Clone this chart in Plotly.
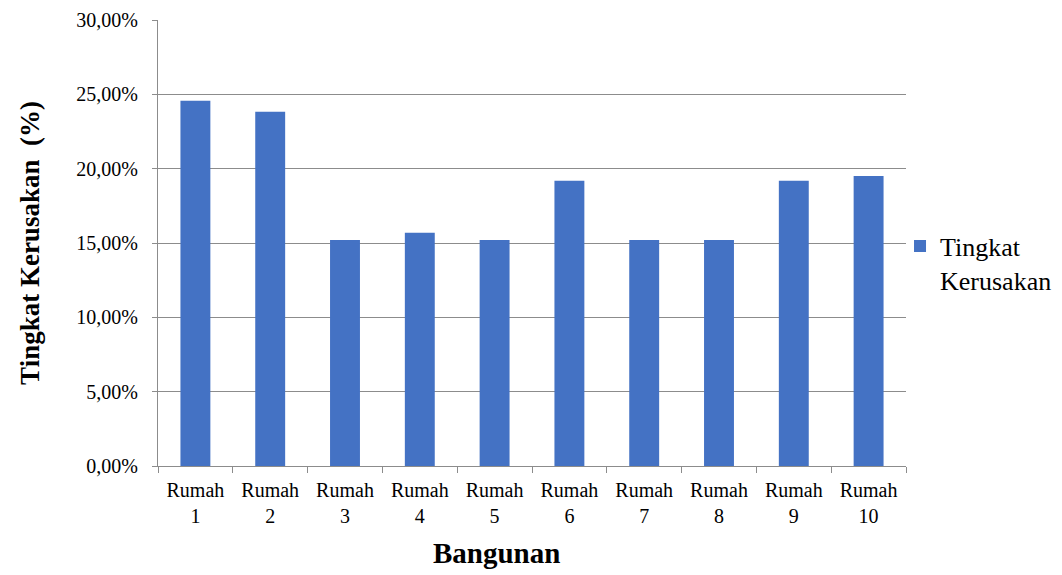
import plotly.graph_objects as go

categories = ["Rumah<br>1", "Rumah<br>2", "Rumah<br>3", "Rumah<br>4", "Rumah<br>5",
              "Rumah<br>6", "Rumah<br>7", "Rumah<br>8", "Rumah<br>9", "Rumah<br>10"]
values = [0.2457, 0.2383, 0.1520, 0.1569, 0.1520, 0.1919, 0.1520, 0.1520, 0.1919, 0.1950]
series_name = "Tingkat<br>Kerusakan"
y_ticks = [0, 0.05, 0.10, 0.15, 0.20, 0.25, 0.30]
x_title = "<b>Bangunan</b>"
y_title = "<b>Tingkat Kerusakan \u00a0(%)</b>"

font = "Liberation Serif, Times New Roman, serif"
grid = "#8c8c8c"

fig = go.Figure()
fig.add_trace(go.Bar(x=categories, y=values, name=series_name,
                     marker=dict(color="#4472C4", line=dict(width=0)),
                     showlegend=True))

fig.update_layout(
    width=1054, height=567,
    margin=dict(l=150, r=156, t=12, b=109, autoexpand=False),
    paper_bgcolor="white", plot_bgcolor="white",
    separators=",.",
    bargap=0.6,
    font=dict(family=font, size=20, color="black"),
    legend=dict(x=0.992, y=0.546, xanchor="left", yanchor="top", valign="top",
                bgcolor="rgba(0,0,0,0)",
                font=dict(family=font, size=26, color="black"),
                itemwidth=30, tracegroupgap=0),
    xaxis=dict(
        automargin=False,
        showline=True, linecolor=grid, linewidth=1,
        ticks="outside", ticklen=6, tickcolor=grid,
        tickson="boundaries", ticklabelstandoff=6,
        tickfont=dict(family=font, size=20),
        showgrid=False,
    ),
    yaxis=dict(
        automargin=False,
        range=[0, 0.30], tickvals=y_ticks, tickformat=".2%",
        showline=True, linecolor=grid, linewidth=1,
        ticks="outside", ticklen=5, tickcolor=grid,
        ticklabelstandoff=10,
        showgrid=True, gridcolor=grid, gridwidth=1,
        zeroline=False,
        tickfont=dict(family=font, size=20),
        title=dict(text=y_title, font=dict(family=font, size=27), standoff=28),
    ),
    annotations=[dict(text=x_title, xref="paper", yref="paper", x=0.452, y=-0.195,
                      xanchor="center", yanchor="middle", showarrow=False,
                      font=dict(family=font, size=29, color="black"))],
)

fig.write_html("out.html")
